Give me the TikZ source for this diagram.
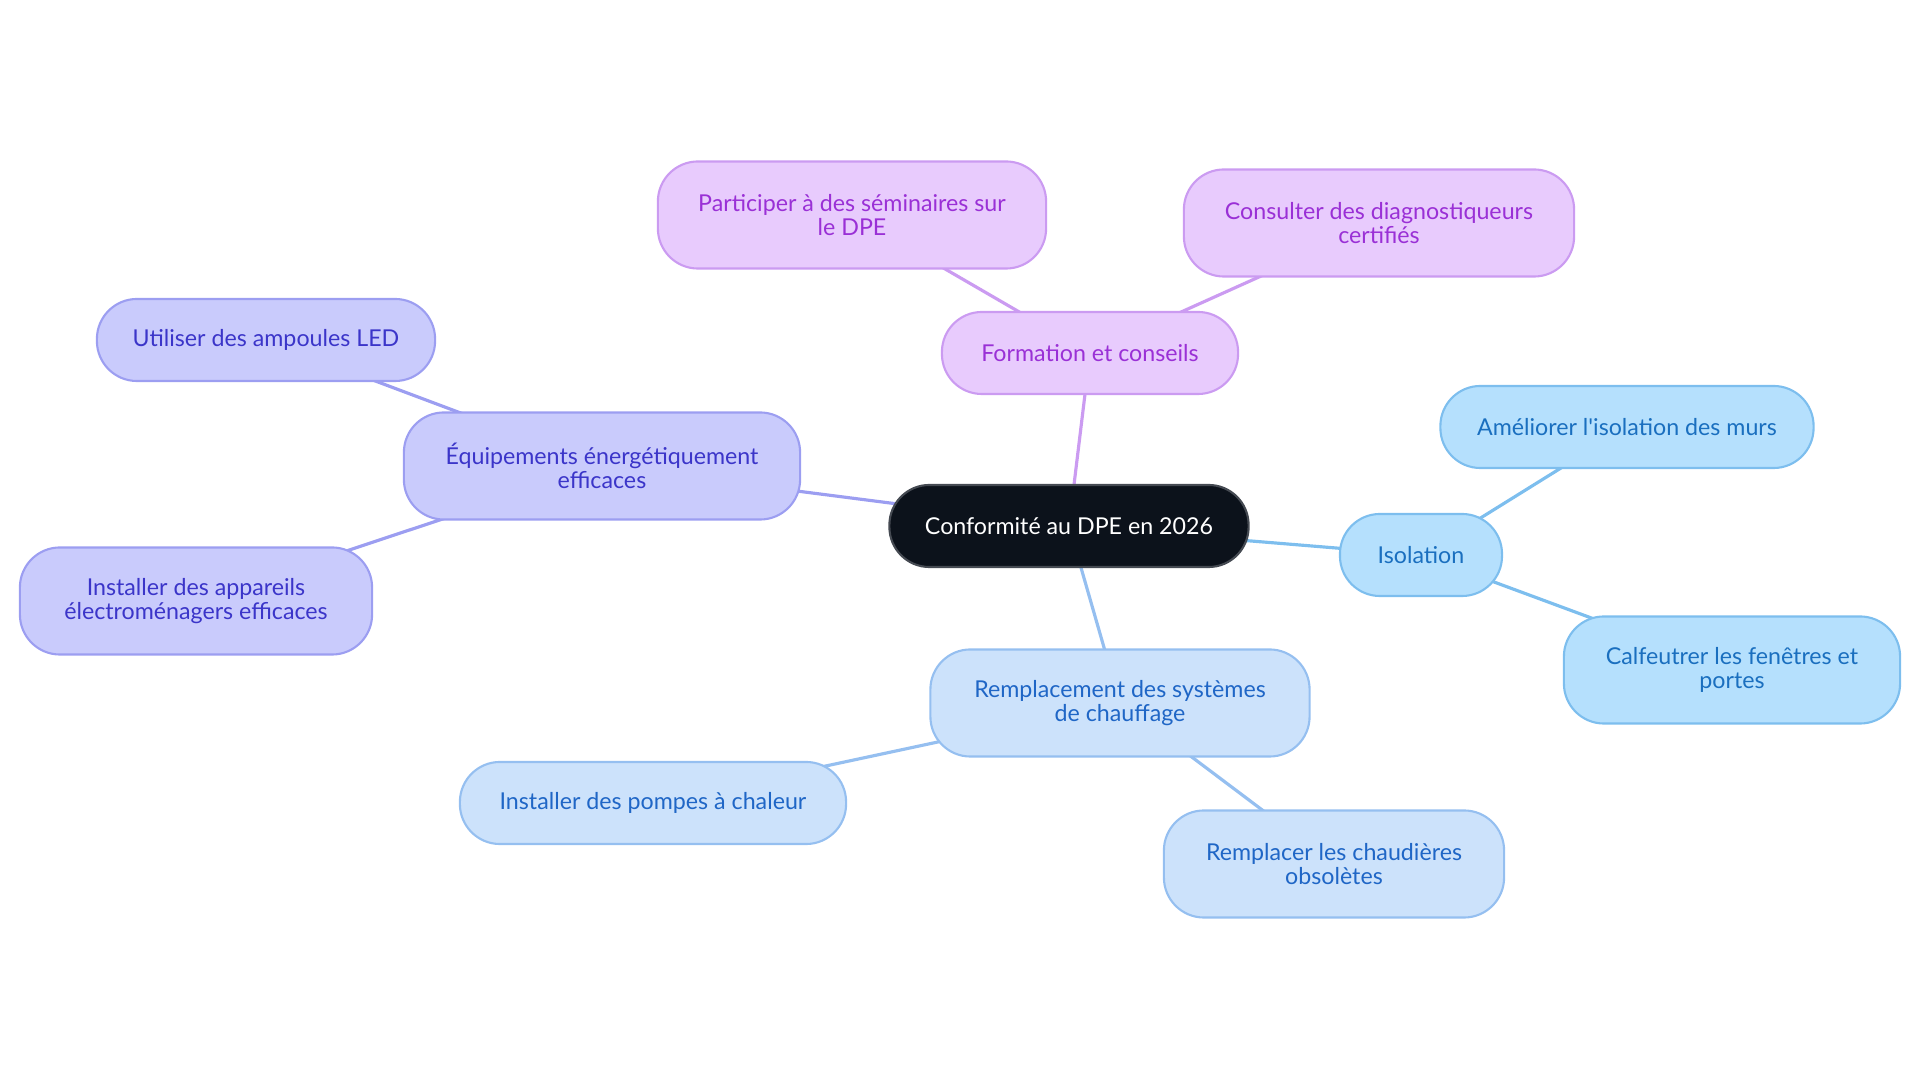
\documentclass[tikz,border=0pt]{standalone}
\usepackage{fontspec}
\setmainfont{Lato}[Ligatures=TeXOff]
\usetikzlibrary{backgrounds}

\definecolor{rootfill}{HTML}{0C121B}
\definecolor{rootdraw}{HTML}{454A52}
\definecolor{eqfill}{HTML}{C9CBFC}
\definecolor{eqdraw}{HTML}{9C9EF1}
\definecolor{eqtext}{HTML}{3B35C9}
\definecolor{fofill}{HTML}{E8CBFD}
\definecolor{fodraw}{HTML}{CB9BF1}
\definecolor{fotext}{HTML}{9A30D6}
\definecolor{isfill}{HTML}{B5E0FD}
\definecolor{isdraw}{HTML}{7DBEEE}
\definecolor{istext}{HTML}{1A6FBF}
\definecolor{refill}{HTML}{CCE2FB}
\definecolor{redraw}{HTML}{95BFF0}
\definecolor{retext}{HTML}{1F66C6}

\tikzset{
  mapbox/.style={rounded corners=0.4cm, line width=0.6pt, align=center, inner sep=0pt,
    font=\fontsize{6.6}{7.0}\selectfont},
  oneline/.style={minimum height=0.82cm},
  twoline/.style={minimum height=1.07cm},
  rootbox/.style={mapbox, oneline, fill=rootfill, draw=rootdraw, text=white},
  equipbox/.style={mapbox, fill=eqfill, draw=eqdraw, text=eqtext},
  formbox/.style={mapbox, fill=fofill, draw=fodraw, text=fotext},
  isolbox/.style={mapbox, fill=isfill, draw=isdraw, text=istext},
  remplbox/.style={mapbox, fill=refill, draw=redraw, text=retext},
  link/.style={line width=0.9pt}
}

\begin{document}
\begin{tikzpicture}[x=0.01cm,y=-0.01cm]
		\useasboundingbox (0,0) rectangle (1920,1083);
		\node[rootbox, minimum width=3.59cm] (root) at (1069,526) {Conformité au DPE en 2026};
		
		% equipements
		\node[equipbox, twoline, minimum width=3.96cm] (equip) at (602,466) {Équipements énergétiquement\\efficaces};
		\node[equipbox, oneline, minimum width=3.38cm] (led) at (266,340) {Utiliser des ampoules LED};
		\node[equipbox, twoline, minimum width=3.52cm] (appareils) at (196,601) {Installer des appareils\\électroménagers efficaces};
		
		% formation
		\node[formbox, oneline, minimum width=2.96cm] (formation) at (1090,353) {Formation et conseils};
		\node[formbox, twoline, minimum width=3.88cm] (seminaires) at (852,215) {Participer à des séminaires sur\\le DPE};
		\node[formbox, twoline, minimum width=3.90cm] (diagnostic) at (1379,223) {Consulter des diagnostiqueurs\\certifiés};
		
		% isolation
		\node[isolbox, oneline, minimum width=1.62cm] (isolation) at (1421,555) {Isolation};
		\node[isolbox, oneline, minimum width=3.73cm] (murs) at (1627,427) {Améliorer l'isolation des murs};
		\node[isolbox, twoline, minimum width=3.36cm] (fenetres) at (1732,670) {Calfeutrer les fenêtres et\\portes};
		
		% chauffage
		\node[remplbox, twoline, minimum width=3.79cm] (chauffage) at (1120,703) {Remplacement des systèmes\\de chauffage};
		\node[remplbox, oneline, minimum width=3.86cm] (pompes) at (653,803) {Installer des pompes à chaleur};
		\node[remplbox, twoline, minimum width=3.40cm] (chaudieres) at (1334,864) {Remplacer les chaudières\\obsolètes};
		
		\begin{scope}[on background layer]
		\draw[link, eqdraw] (root.center) -- (equip.center);
		\draw[link, eqdraw] (equip.center) -- (led.center);
		\draw[link, eqdraw] (equip.center) -- (appareils.center);
		\draw[link, fodraw] (root.center) -- (formation.center);
		\draw[link, fodraw] (formation.center) -- (seminaires.center);
		\draw[link, fodraw] (formation.center) -- (diagnostic.center);
		\draw[link, isdraw] (root.center) -- (isolation.center);
		\draw[link, isdraw] (isolation.center) -- (murs.center);
		\draw[link, isdraw] (isolation.center) -- (fenetres.center);
		\draw[link, redraw] (root.center) -- (chauffage.center);
		\draw[link, redraw] (chauffage.center) -- (pompes.center);
		\draw[link, redraw] (chauffage.center) -- (chaudieres.center);
		\end{scope}
\end{tikzpicture}
\end{document}
